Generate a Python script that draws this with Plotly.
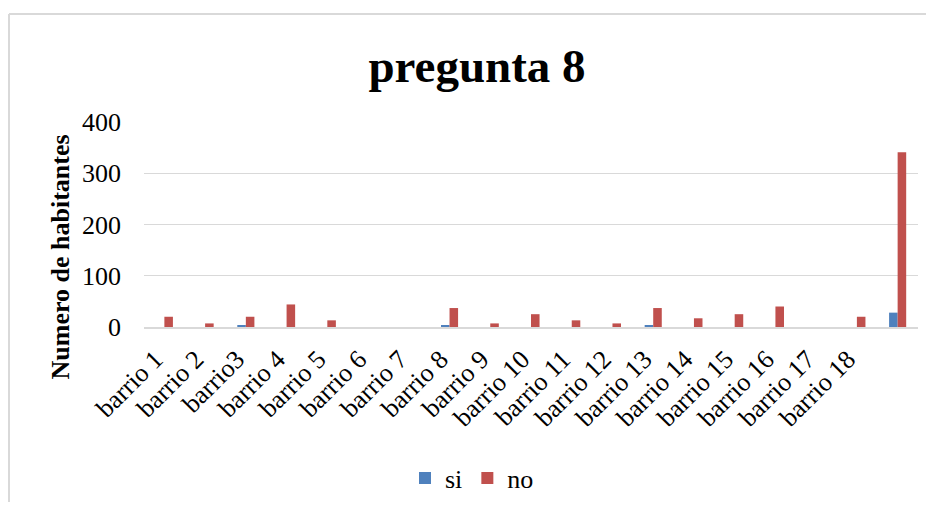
import plotly.graph_objects as go

categories = ["barrio 1", "barrio 2", "barrio3", "barrio 4", "barrio 5", "barrio 6",
              "barrio 7", "barrio 8", "barrio 9", "barrio 10", "barrio 11", "barrio 12",
              "barrio 13", "barrio 14", "barrio 15", "barrio 16", "barrio 17", "barrio 18", ""]
si_values = [0, 0, 3, 0, 0, 0, 0, 3, 0, 0, 0, 0, 3, 0, 0, 0, 0, 0, 28]
no_values = [20, 7, 20, 44, 13, 0, 0, 37, 7, 25, 13, 7, 37, 17, 25, 40, 0, 20, 341]
y_ticks = [0, 100, 200, 300, 400]

# the page body adds an 8px margin; figure coordinates = page coordinates - 8
OFF = 8
W, H = 934 - 2 * OFF, 510 - 2 * OFF
L, T = 144 - OFF, 122 - OFF
R = W - (918 - OFF)
B = H - (327 - OFF)
pw, ph = W - L - R, H - T - B

FONT = "Liberation Serif, Times New Roman, serif"
x_idx = list(range(len(categories)))

fig = go.Figure()
fig.add_trace(go.Bar(name="si", x=x_idx, y=si_values, marker=dict(color="#4F81BD", line=dict(width=0))))
fig.add_trace(go.Bar(name="no", x=x_idx, y=no_values, marker=dict(color="#C0504D", line=dict(width=0))))

def px_x(x):
    return (x - OFF - L) / pw

def px_y(y):
    return (H - B - (y - OFF)) / ph

fig.update_layout(
    width=W, height=H,
    margin=dict(l=L, r=R, t=T, b=B),
    paper_bgcolor="white", plot_bgcolor="white",
    font=dict(family=FONT, color="#000000", size=24),
    barmode="group", bargap=0.58, bargroupgap=0.0,
    title=dict(text="<b>pregunta 8</b>", font=dict(family=FONT, size=47, color="#000000"),
               x=(477 - OFF) / W, xref="container", xanchor="center",
               y=1 - (66 - OFF) / H, yref="container", yanchor="middle"),
    xaxis=dict(tickmode="array", tickvals=x_idx, ticktext=categories, tickangle=-45,
               range=[-0.5, len(categories) - 0.5], showgrid=False, ticks="",
               showline=True, linecolor="#D9D9D9", linewidth=1.5,
               ticklabelshift=-9, ticklabelstandoff=5,
               tickfont=dict(family=FONT, size=26, color="#000000")),
    yaxis=dict(range=[0, 400], tickmode="array", tickvals=y_ticks,
               showgrid=True, gridcolor="#D9D9D9", gridwidth=1.2, zeroline=False,
               showline=False, ticklabelstandoff=22,
               tickfont=dict(family=FONT, size=26, color="#000000")),
    legend=dict(orientation="h", xref="container", x=(472 - OFF) / W, xanchor="center",
                yref="container", y=1 - (478 - OFF) / H, yanchor="middle",
                font=dict(family=FONT, size=26, color="#000000"), itemwidth=30,
                traceorder="normal"),
    showlegend=True,
)

fig.add_annotation(text="<b>Numero de habitantes</b>", textangle=-90,
                   xref="paper", yref="paper", x=px_x(60), y=px_y(257.5),
                   xanchor="center", yanchor="middle", showarrow=False,
                   font=dict(family=FONT, size=26, color="#000000"))

# chart frame (top and left borders)
fig.add_shape(type="line", xref="paper", yref="paper", x0=px_x(9), x1=px_x(926), y0=px_y(14), y1=px_y(14),
              line=dict(color="#D9D9D9", width=2))
fig.add_shape(type="line", xref="paper", yref="paper", x0=px_x(9), x1=px_x(9), y0=px_y(14), y1=px_y(502),
              line=dict(color="#D9D9D9", width=2))

fig.write_html("out.html")
